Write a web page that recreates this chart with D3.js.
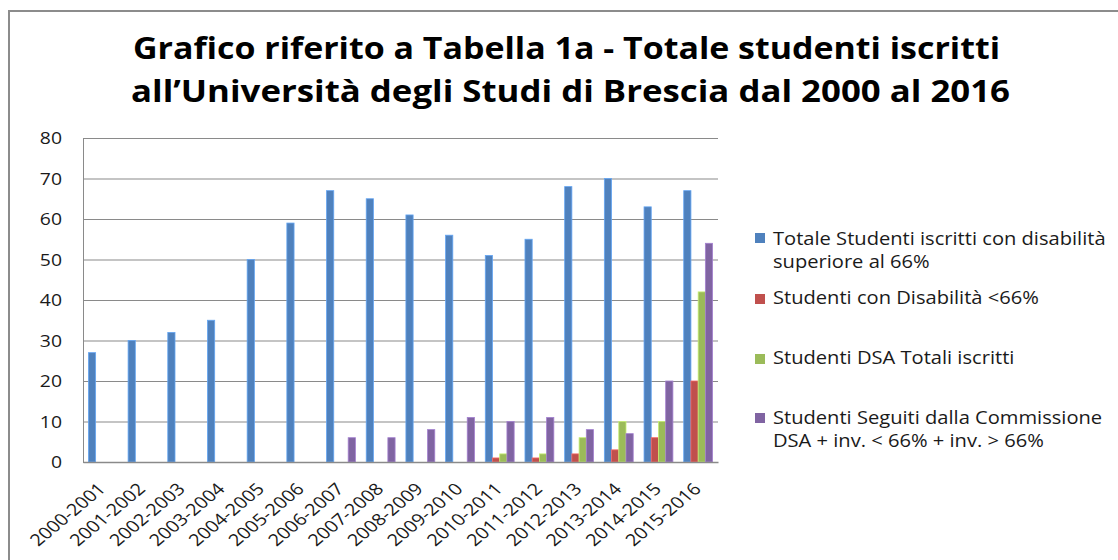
<!DOCTYPE html>
<html>
<head>
<meta charset="utf-8">
<script src="https://cdn.jsdelivr.net/npm/d3@7"></script>
<style>
  html, body { margin: 0; padding: 0; background: #fff; }
  svg { display: block; }
</style>
</head>
<body>
<svg id="chart" width="1118" height="560"></svg>
<script>
// ---- data ----
const categories = ["2000-2001","2001-2002","2002-2003","2003-2004","2004-2005","2005-2006","2006-2007","2007-2008","2008-2009","2009-2010","2010-2011","2011-2012","2012-2013","2013-2014","2014-2015","2015-2016"];
const seriesNames = [
  "Totale Studenti iscritti con disabilità superiore al 66%",
  "Studenti con Disabilità <66%",
  "Studenti DSA Totali iscritti",
  "Studenti Seguiti dalla Commissione DSA + inv. < 66% + inv. > 66%"
];
const legendLines = [
  ["Totale Studenti iscritti con disabilità", "superiore al 66%"],
  ["Studenti con Disabilità <66%"],
  ["Studenti DSA Totali iscritti"],
  ["Studenti Seguiti dalla Commissione", "DSA + inv. < 66% + inv. > 66%"]
];
const totaleSup66   = [27, 30, 32, 35, 50, 59, 67, 65, 61, 56, 51, 55, 68, 70, 63, 67];
const disabInf66    = [0, 0, 0, 0, 0, 0, 0, 0, 0, 0, 1, 1, 2, 3, 6, 20];
const dsaTotali     = [0, 0, 0, 0, 0, 0, 0, 0, 0, 0, 2, 2, 6, 10, 10, 42];
const seguitiComm   = [0, 0, 0, 0, 0, 0, 6, 6, 8, 11, 10, 11, 8, 7, 20, 54];
const yTicks = [0, 10, 20, 30, 40, 50, 60, 70, 80];
const titleLines = [
  "Grafico riferito a Tabella 1a - Totale studenti iscritti",
  "all\u2019Università degli Studi di Brescia dal 2000 al 2016"
];
const colors = ["#4F81BD", "#C0504D", "#9BBB59", "#8064A2"];

const seriesValues = [totaleSup66, disabInf66, dsaTotali, seguitiComm];

// ---- layout ----
const svg = d3.select("#chart");
const plot = { left: 83, right: 718, top: 138, bottom: 462 };
const textColor = "#1a1a1a";
const gridColor = "#8a8a8a";

svg.append("rect").attr("width", 1118).attr("height", 560).attr("fill", "#fff");

// outer chart border (left + top visible)
svg.append("path")
  .attr("d", "M9,560 L9,11 L1118,11")
  .attr("fill", "none")
  .attr("stroke", "#8c8c8c")
  .attr("stroke-width", 2);

// title
svg.selectAll("text.title")
  .data(titleLines)
  .enter().append("text")
  .attr("class", "title")
  .attr("x", (d, i) => i === 0 ? 566.5 : 570.5)
  .attr("y", (d, i) => i === 0 ? 59 : 102)
  .attr("text-anchor", "middle")
  .attr("textLength", (d, i) => i === 0 ? 867 : 879)
  .attr("lengthAdjust", "spacingAndGlyphs")
  .attr("font-family", "'Open Sans', sans-serif")
  .attr("font-weight", "bold")
  .attr("font-size", 31)
  .attr("fill", "#000")
  .text(d => d);

// scales
const y = d3.scaleLinear().domain([0, 80]).range([plot.bottom, plot.top]);
const x0 = d3.scaleBand().domain(categories).range([plot.left, plot.right])
  .paddingInner(1.5 / 5.5).paddingOuter(0.75 / 5.5);
const x1 = d3.scaleBand().domain(d3.range(4)).range([0, x0.bandwidth()]).padding(0);

// y axis + gridlines
const yAxis = d3.axisLeft(y)
  .tickValues(yTicks)
  .tickSizeInner(-(plot.right - plot.left))
  .tickSizeOuter(0)
  .tickPadding(21);

const gy = svg.append("g")
  .attr("transform", `translate(${plot.left},0)`)
  .call(yAxis);
gy.select(".domain").attr("stroke", gridColor).attr("stroke-width", 1);
gy.selectAll(".tick line").attr("stroke", gridColor).attr("stroke-width", 1.2);
gy.selectAll(".tick text")
  .attr("x", null).attr("dy", null)
  .attr("transform", "translate(-21,5.5) scale(1.25,1)")
  .attr("font-family", "'Open Sans', sans-serif")
  .attr("font-size", 15.5)
  .attr("fill", textColor);

// bars
const groups = svg.append("g").selectAll("g")
  .data(categories)
  .enter().append("g")
  .attr("transform", d => `translate(${x0(d)},0)`);

groups.selectAll("rect")
  .data((c, ci) => seriesValues.map((vals, si) => ({ si, v: vals[ci] })).filter(d => d.v > 0))
  .enter().append("rect")
  .attr("x", d => x1(d.si))
  .attr("width", x1.bandwidth())
  .attr("y", d => y(d.v))
  .attr("height", d => y(0) - y(d.v))
  .attr("fill", d => colors[d.si])
  .attr("stroke", d => d3.color(colors[d.si]).brighter(0.7))
  .attr("stroke-width", 0.8);

// x axis
const xAxis = d3.axisBottom(x0).tickSize(0).tickPadding(0);
const gx = svg.append("g")
  .attr("transform", `translate(0,${plot.bottom})`)
  .call(xAxis);
gx.select(".domain").attr("stroke", gridColor).attr("stroke-width", 1.5);
gx.selectAll(".tick text")
  .attr("y", null).attr("dy", null)
  .attr("text-anchor", "end")
  .attr("transform", "translate(4,28) scale(1.2,1) rotate(-45)")
  .attr("font-family", "'Open Sans', sans-serif")
  .attr("font-size", 16.5)
  .attr("fill", textColor);

// legend
const legendY = [
  { sq: 233, lines: [245, 268] },
  { sq: 294, lines: [304] },
  { sq: 354, lines: [364] },
  { sq: 413, lines: [424, 447] }
];
const leg = svg.append("g");
legendLines.forEach((lines, i) => {
  leg.append("rect")
    .attr("x", 755).attr("y", legendY[i].sq)
    .attr("width", 10).attr("height", 10)
    .attr("fill", colors[i]);
  lines.forEach((t, j) => {
    leg.append("text")
      .attr("transform", `translate(773,${legendY[i].lines[j]}) scale(1.15,1)`)
      .attr("font-family", "'Open Sans', sans-serif")
      .attr("font-size", 17.5)
      .attr("fill", textColor)
      .text(t);
  });
});
</script>
</body>
</html>
